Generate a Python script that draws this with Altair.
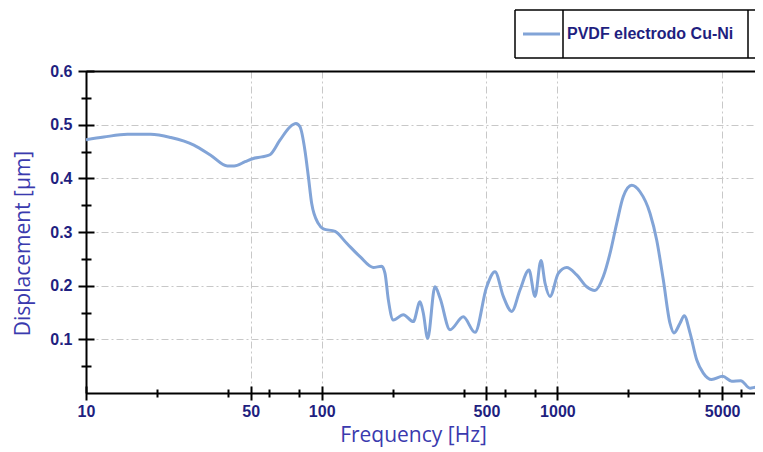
import altair as alt
import pandas as pd

# ---- data ----
freq = [10, 11.9, 15, 18.8, 22.9, 28.7, 33.8, 39.8, 42.5, 47.3,
        51.3, 55.7, 60.3, 66.5, 73.4, 77.8, 80.9, 84.9, 87.8, 90.7,
        96.7, 101.6, 113.9, 127.7, 145.4, 165.5, 179.7, 185.6, 191.7, 201.3,
        221.9, 244.7, 261.3, 269.8, 281.6, 302.5, 317.7, 350.3, 398.8, 447.1,
        501.2, 543.6, 589.6, 640.1, 694.0, 757.8, 803.5, 852.0, 886.0, 930.2,
        1008.8, 1095.3, 1207.8, 1331.5, 1443.7, 1565.7, 1672, 1785, 1904, 2067,
        2241, 2471, 2638, 2814, 3004, 3124, 3313, 3454, 3653, 3899,
        4159, 4515, 5027, 5490, 5995, 6565, 7008, 7453]
disp = [0.472, 0.477, 0.482, 0.482, 0.476, 0.462, 0.443, 0.423, 0.423, 0.431,
        0.437, 0.440, 0.444, 0.471, 0.496, 0.502, 0.496, 0.452, 0.403, 0.353,
        0.316, 0.306, 0.301, 0.279, 0.254, 0.234, 0.236, 0.223, 0.174, 0.136,
        0.146, 0.133, 0.170, 0.149, 0.102, 0.198, 0.177, 0.118, 0.142, 0.113,
        0.198, 0.226, 0.180, 0.152, 0.192, 0.229, 0.180, 0.247, 0.205, 0.180,
        0.223, 0.234, 0.220, 0.198, 0.191, 0.217, 0.260, 0.316, 0.366, 0.387,
        0.375, 0.335, 0.285, 0.211, 0.130, 0.112, 0.130, 0.144, 0.112, 0.062,
        0.037, 0.025, 0.031, 0.022, 0.023, 0.009, 0.011, 0.006]
series_name = "PVDF electrodo Cu-Ni"

x_major = [10, 50, 100, 500, 1000, 5000]
x_grid = [50, 100, 500, 1000, 5000]
x_minor = [20, 40, 60, 80, 200, 400, 600, 800, 2000, 4000, 6000]
y_major = [0.1, 0.2, 0.3, 0.4, 0.5, 0.6]
y_grid = [0.1, 0.2, 0.3, 0.4, 0.5]
y_minor = [0.05, 0.15, 0.25, 0.35, 0.45, 0.55]

df = pd.DataFrame({"freq": freq, "disp": disp, "series": series_name})

# ---- style ----
LINE = "#82a4d7"
LABEL = "#1f1f80"
TITLE = "#3a3aae"
GRID = "#c8c8c8"
LFONT = "Liberation Sans"
TFONT = "Open Sans"

W, H = 669, 322
xscale = alt.Scale(type="log", domain=[10, 6893], nice=False)
yscale = alt.Scale(domain=[0, 0.6], nice=False, zero=False)

# main line + grid + domain + titles
main = alt.Chart(df).mark_line(strokeWidth=3, interpolate="monotone", clip=True).encode(
    x=alt.X("freq:Q", scale=xscale, axis=alt.Axis(
        orient="bottom", values=x_grid, grid=True, gridColor=GRID, gridDash=[7, 3, 2, 3],
        gridWidth=1, ticks=False, labels=False, domain=True, domainColor="black",
        domainWidth=2, title="Frequency [Hz]", titleFont=TFONT, titleFontSize=21,
        titleFontWeight="normal", titleColor=TITLE, titleX=327, titleY=48,
        titleAlign="center", titleBaseline="alphabetic")),
    y=alt.Y("disp:Q", scale=yscale, axis=alt.Axis(
        orient="left", values=y_grid, grid=True, gridColor=GRID, gridDash=[7, 3, 2, 3],
        gridWidth=1, ticks=False, labels=False, domain=True, domainColor="black",
        domainWidth=2, title="Displacement [µm]", titleFont=TFONT, titleFontSize=21,
        titleFontWeight="normal", titleColor=TITLE, titleAngle=270, titleX=-63,
        titleY=172, titleAlign="center", titleBaseline="middle")),
    color=alt.Color("series:N", scale=alt.Scale(range=[LINE]), legend=alt.Legend(
        orient="none", legendX=435.5, legendY=-57, title=None, symbolType="stroke",
        symbolSize=1369, symbolStrokeWidth=3, labelFont=LFONT, labelFontSize=16,
        labelFontWeight="bold", labelColor=LABEL, labelOffset=5.5, padding=0,
        labelLimit=400)),
)

# major ticks (crossing) with labels
major = alt.Chart(df).mark_line(opacity=0).encode(
    x=alt.X("freq:Q", scale=xscale, axis=alt.Axis(
        orient="bottom", offset=-7, values=x_major, tickSize=14, tickWidth=2,
        tickColor="black", domain=False, grid=False, labels=True, labelFont=LFONT,
        labelFontSize=16, labelFontWeight="bold", labelColor=LABEL, labelPadding=3,
        labelFlush=False, labelOverlap=False, format="d", title=None)),
    y=alt.Y("disp:Q", scale=yscale, axis=alt.Axis(
        orient="left", offset=-8, values=y_major, tickSize=16, tickWidth=2,
        tickColor="black", domain=False, grid=False, labels=True, labelFont=LFONT,
        labelFontSize=16, labelFontWeight="bold", labelColor=LABEL, labelPadding=6,
        labelFlush=False, labelOverlap=False, format=".1f", title=None)),
)

# minor ticks (crossing)
minor = alt.Chart(df).mark_line(opacity=0).encode(
    x=alt.X("freq:Q", scale=xscale, axis=alt.Axis(
        orient="bottom", offset=-4, values=x_minor, tickSize=8, tickWidth=2,
        tickColor="black", domain=False, grid=False, labels=False, title=None)),
    y=alt.Y("disp:Q", scale=yscale, axis=alt.Axis(
        orient="left", offset=-5, values=y_minor, tickSize=10, tickWidth=2,
        tickColor="black", domain=False, grid=False, labels=False, title=None)),
)

# top frame line
top = alt.Chart(df).mark_line(opacity=0).encode(
    x=alt.X("freq:Q", scale=xscale, axis=alt.Axis(
        orient="top", domain=True, domainColor="black", domainWidth=2, ticks=False,
        labels=False, grid=False, title=None)),
    y=alt.Y("disp:Q", scale=yscale, axis=None),
)

# legend frame (decoration)
one = alt.Data(values=[{}])
def hrule(y):
    return alt.Chart(one).mark_rule(color="black", strokeWidth=1.5).encode(
        x=alt.value(429), x2=alt.value(W), y=alt.value(y))
def vrule(x):
    return alt.Chart(one).mark_rule(color="black", strokeWidth=1.5).encode(
        x=alt.value(x), y=alt.value(-61), y2=alt.value(-13))

chart = alt.layer(
    main, major, minor, top,
    hrule(-61), hrule(-13), vrule(429), vrule(477), vrule(662),
).resolve_axis(x="independent", y="independent").properties(
    width=W, height=H,
    autosize=alt.AutoSizeParams(type="none"),
    padding={"left": 78, "top": 63, "right": 0, "bottom": 58},
).configure_view(stroke=None).configure(background="white")

chart.save("out.html", embed_options={"renderer": "svg", "actions": False})
